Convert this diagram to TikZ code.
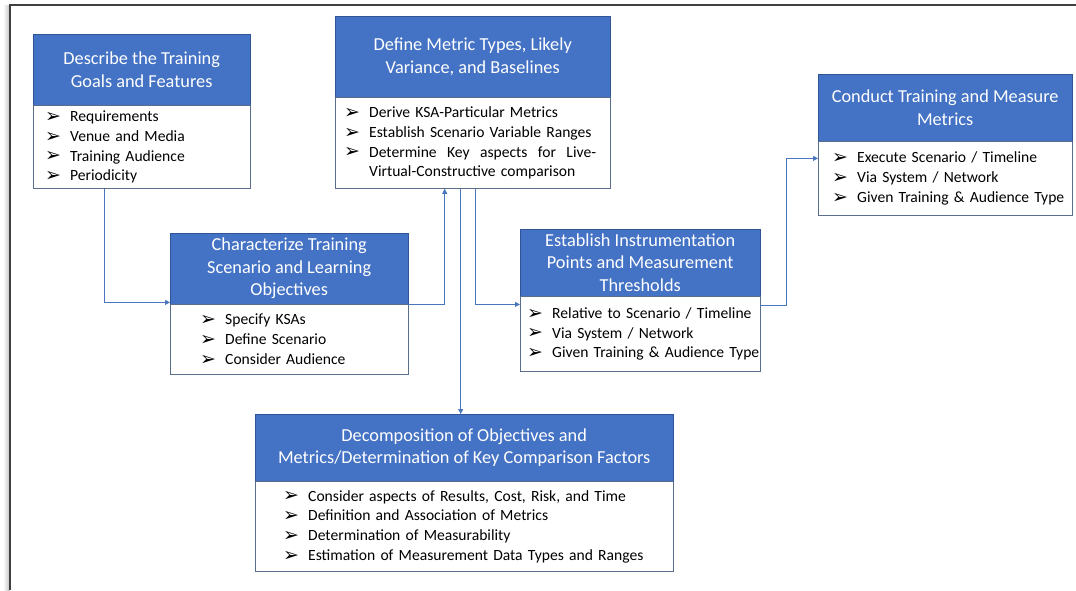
\documentclass[tikz,border=0pt]{standalone}
\usepackage{fontspec}
\setmainfont{Carlito}
\newfontfamily\symfont{DejaVu Sans}
\usetikzlibrary{positioning,arrows.meta}

\definecolor{hdblue}{HTML}{4472C4}
\definecolor{hdedge}{HTML}{2F5597}
\definecolor{bdedge}{HTML}{5A6E8C}
\definecolor{lnblue}{HTML}{4A76C0}

% one list line with its arrow bullet, and a continued line
\newcommand{\bul}[1]{\mbox{\makebox[25pt][l]{\raisebox{-0.8pt}{\symfont\fontsize{19}{19}\selectfont ➢}}#1}}
\newcommand{\cont}[1]{\mbox{\hspace*{25pt}#1}}

\begin{document}
\begin{tikzpicture}[x=1pt,y=-1pt,
    head/.style={draw=hdedge, fill=hdblue, text=white, align=center,
      anchor=north west, inner sep=0pt, font=\fontsize{18.3}{22.5}\selectfont},
    body/.style={draw=bdedge, fill=white, align=left, inner ysep=0pt,
      font=\fontsize{15.6}{19.7}\selectfont},
    link/.style={draw=lnblue, line width=0.8pt, -{Triangle[length=5pt,width=5pt]}}]

    \useasboundingbox (0,0) rectangle (1076,590);

    % Page frame
    \fill[left color=white, right color=black!25] (3,5) rectangle (10,590);
    \draw[black!75, line width=1.5pt] (1076,5) -- (10,5) -- (10,590);

    % Describe the training goals
    \node[head, minimum width=217pt, minimum height=71pt] (h1) at (33,34)
      {Describe the Training\\Goals and Features};
    \node[body, below=0pt of h1, inner xsep=12pt, text width=193pt, minimum height=83pt] (b1)
      {\bul{Requirements}\\\bul{Venue and Media}\\\bul{Training Audience}\\\bul{Periodicity}};

    % Define metric types
    \node[head, minimum width=275pt, minimum height=81pt] (h2) at (335,16)
      {Define Metric Types, Likely\\Variance, and Baselines};
    \node[body, below=0pt of h2, inner xsep=9pt, text width=257pt, minimum height=91pt] (b2)
      {\bul{Derive KSA-Particular Metrics}\\\bul{Establish Scenario Variable Ranges}\\
       \bul{Determine\ \ Key\ \ aspects\ \ for\ \ Live-}\\\cont{Virtual-Constructive comparison}};

    % Characterize scenario
    \node[head, minimum width=238pt, minimum height=71pt] (h3) at (170,233)
      {Characterize Training\\Scenario and Learning\\Objectives};
    \node[body, below=0pt of h3, inner xsep=30pt, text width=178pt, minimum height=70pt] (b3)
      {\bul{Specify KSAs}\\\bul{Define Scenario}\\\bul{Consider Audience}};

    % Instrumentation points
    \node[head, minimum width=240pt, minimum height=67pt] (h4) at (520,229)
      {Establish Instrumentation\\Points and Measurement\\Thresholds};
    \node[body, below=0pt of h4, inner xsep=7pt, text width=226pt, minimum height=75pt] (b4)
      {\bul{Relative to Scenario / Timeline}\\\bul{Via System / Network}\\\bul{Given Training \& Audience Type}};

    % Conduct training
    \node[head, minimum width=254pt, minimum height=67pt] (h5) at (818,74)
      {Conduct Training and Measure\\Metrics};
    \node[body, below=0pt of h5, inner xsep=14pt, text width=226pt, minimum height=74pt] (b5)
      {\bul{Execute Scenario / Timeline}\\\bul{Via System / Network}\\\bul{Given Training \& Audience Type}};

    % Decomposition
    \node[head, minimum width=418pt, minimum height=67pt] (h6) at (255,414)
      {Decomposition of Objectives and\\Metrics/Determination of Key Comparison Factors};
    \node[body, below=0pt of h6, inner xsep=28pt, text width=362pt, minimum height=90pt] (b6)
      {\bul{Consider aspects of Results, Cost, Risk, and Time}\\\bul{Definition and Association of Metrics}\\
       \bul{Determination of Measurability}\\\bul{Estimation of Measurement Data Types and Ranges}};

    % Connectors
    \draw[link] ([xshift=71pt]b1.south west) |- ([yshift=2pt]h3.south west);
    \draw[link] (h3.south east) -| ([xshift=-28pt]b2.south);
    \draw[link] ([xshift=-12pt]b2.south) -- ([xshift=-12pt]b2.south |- h6.north);
    \draw[link] ([xshift=3pt]b2.south) |- ([yshift=-8pt]h4.south west);
    \draw[link] ([yshift=-9pt]h4.south east) -- ++(26,0) |- ([yshift=-17pt]h5.south west);

\end{tikzpicture}
\end{document}
